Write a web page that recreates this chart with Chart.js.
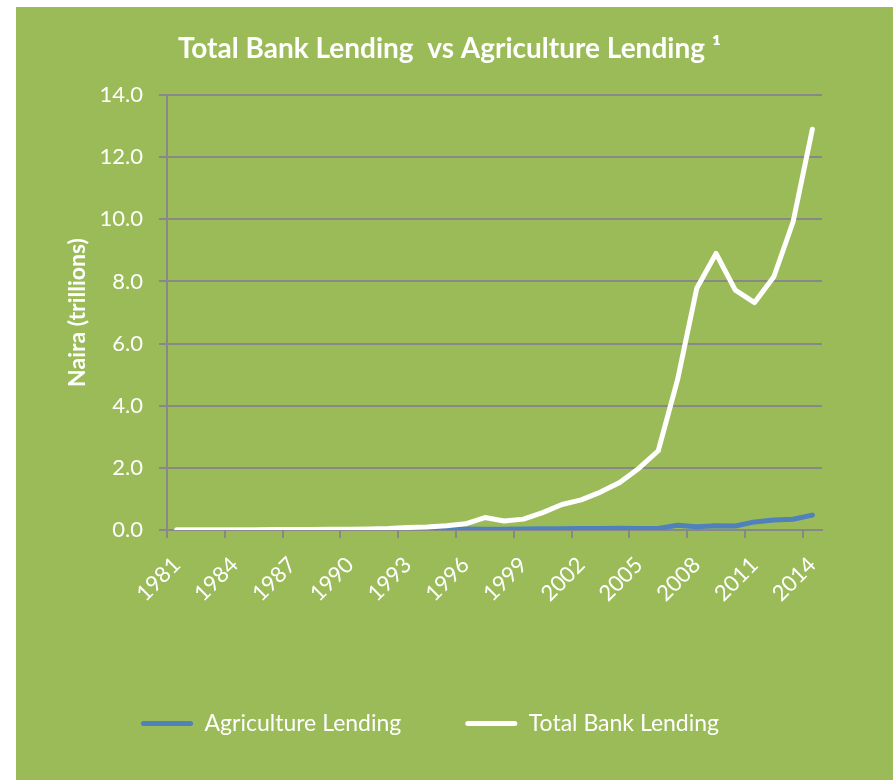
<!DOCTYPE html>
<html>
<head>
<meta charset="utf-8">
<script src="https://cdn.jsdelivr.net/npm/chart.js@4"></script>
<style>
  html, body { margin: 0; padding: 0; background: #fff; overflow: hidden; }
  #box { position: absolute; left: 16px; top: 7px; width: 877px; height: 773px; background: #9BBB59; }
  #c { position: absolute; left: 0; top: 0; }
</style>
</head>
<body>
<div id="box"><canvas id="c" width="877" height="738"></canvas></div>
<script>
// values (Naira, trillions)
const years = ["1981","1982","1983","1984","1985","1986","1987","1988","1989","1990",
  "1991","1992","1993","1994","1995","1996","1997","1998","1999","2000",
  "2001","2002","2003","2004","2005","2006","2007","2008","2009","2010",
  "2011","2012","2013","2014"];
const agriLending = [0.001,0.001,0.001,0.001,0.001,0.002,0.002,0.003,0.003,0.004,
  0.005,0.007,0.011,0.017,0.025,0.033,0.027,0.028,0.031,0.041,
  0.044,0.048,0.052,0.06,0.05,0.052,0.15,0.105,0.135,0.13,
  0.26,0.32,0.345,0.48];
const totalLending = [0.01,0.01,0.011,0.012,0.012,0.016,0.018,0.02,0.022,0.026,
  0.033,0.045,0.08,0.1,0.14,0.2,0.4,0.29,0.35,0.56,
  0.82,0.97,1.22,1.53,1.99,2.55,4.83,7.78,8.9,7.72,
  7.32,8.15,9.92,12.9];
const yTicks = [0, 2, 4, 6, 8, 10, 12, 14];

const GRID = "#888888";
const TXT = "#ffffff";
Chart.defaults.font.family = "Lato, 'Open Sans', sans-serif";
Chart.defaults.color = TXT;

const baseLabels = Chart.defaults.plugins.legend.labels.generateLabels;

new Chart(document.getElementById("c"), {
  type: "line",
  data: {
    labels: years,
    datasets: [
      { label: "Agriculture Lending", data: agriLending, borderColor: "#4F81BD", backgroundColor: "#4F81BD",
        borderWidth: 5, order: 1 },
      { label: "Total Bank Lending", data: totalLending, borderColor: "#ffffff", backgroundColor: "#ffffff",
        borderWidth: 5, order: 0 }
    ]
  },
  options: {
    responsive: false,
    animation: false,
    layout: { padding: { left: 61, right: 71, top: 0, bottom: 0 } },
    elements: {
      point: { radius: 0, hoverRadius: 0 },
      line: { tension: 0, borderCapStyle: "round", borderJoinStyle: "round" }
    },
    plugins: {
      title: {
        display: true,
        text: "Total Bank Lending  vs Agriculture Lending ¹",
        color: TXT,
        font: { size: 28, weight: "bold" },
        padding: { top: 25, bottom: 29.4 }
      },
      legend: {
        position: "bottom",
        align: "start",
        labels: {
          color: TXT,
          font: { size: 23 },
          boxWidth: 52,
          boxHeight: 5,
          padding: 64,
          useBorderRadius: true,
          borderRadius: 2.5,
          sort: (a, b) => a.datasetIndex - b.datasetIndex,
          generateLabels: chart => baseLabels(chart).map(it => {
            it.fillStyle = it.strokeStyle;
            it.lineWidth = 0;
            return it;
          })
        }
      },
      tooltip: { enabled: false }
    },
    scales: {
      x: {
        type: "category",
        offset: true,
        afterFit: s => { s.height = 118; },
        grid: {
          offset: true,
          drawOnChartArea: false,
          drawTicks: true,
          tickLength: 8,
          lineWidth: 2,
          color: c => (c.index % 3 === 0 ? GRID : "rgba(0,0,0,0)")
        },
        border: { color: GRID, width: 2 },
        ticks: {
          autoSkip: false,
          maxRotation: 45,
          minRotation: 45,
          padding: 14,
          color: TXT,
          font: { size: 22 },
          callback: (v, i) => (i % 3 === 0 ? years[i] : "")
        }
      },
      y: {
        min: 0,
        max: 14,
        afterFit: s => { s.width = 90; },
        afterBuildTicks: s => { s.ticks = yTicks.map(v => ({ value: v })); },
        grid: { color: GRID, lineWidth: 2, tickLength: 8 },
        border: { color: GRID, width: 2 },
        ticks: {
          padding: 16,
          color: TXT,
          font: { size: 22 },
          callback: v => v.toFixed(1)
        },
        title: {
          display: true,
          text: "Naira (trillions)",
          color: TXT,
          font: { size: 23, weight: "bold", lineHeight: 1 },
          padding: { top: -11, bottom: 0 }
        }
      }
    }
  }
});
</script>
</body>
</html>
